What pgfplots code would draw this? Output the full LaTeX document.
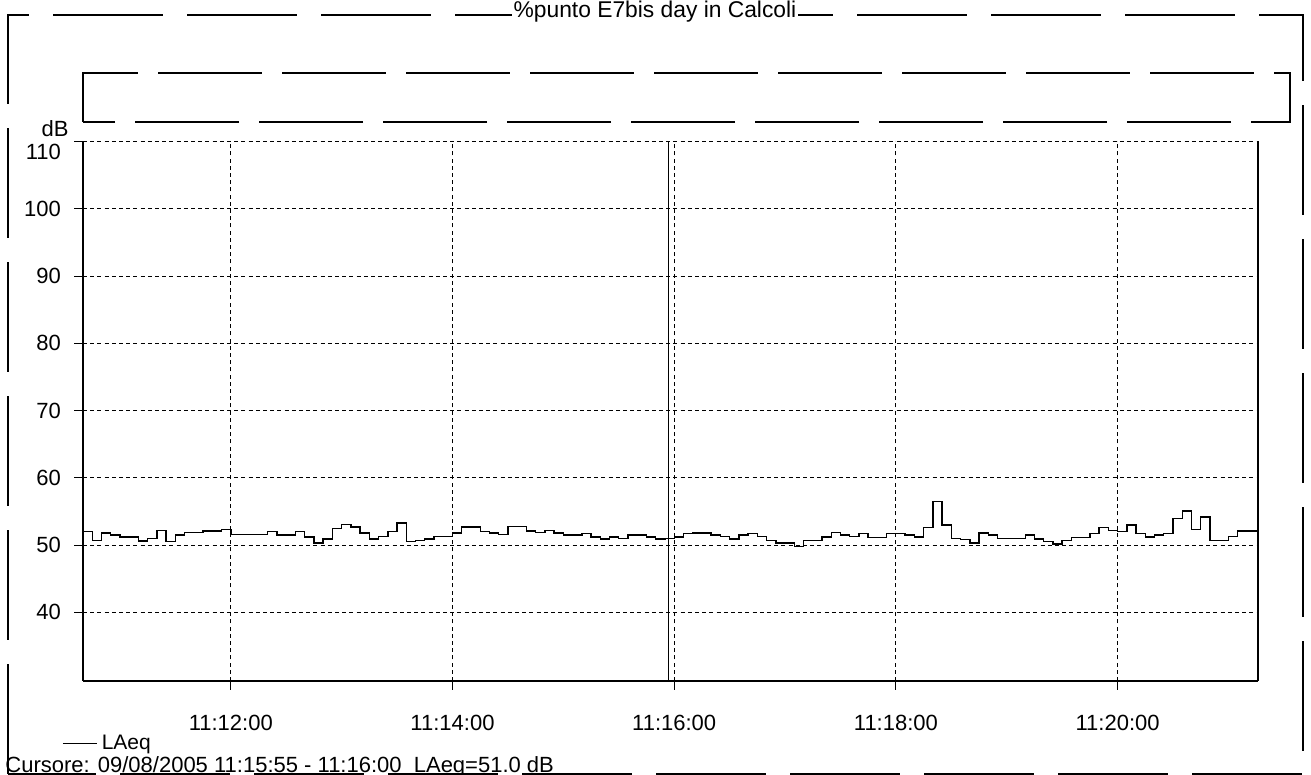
\documentclass[border=0pt]{standalone}
\usepackage{fontspec}
\setmainfont{Liberation Sans}
\usepackage{pgfplots}
\pgfplotsset{compat=1.18}

\begin{document}
\begin{tikzpicture}[font=\fontsize{11}{13}\selectfont]
\useasboundingbox (0pt,0pt) rectangle (655.5pt,387.5pt);

% scanned frame and empty header box
\draw[line width=1pt, dash pattern=on 55pt off 12pt] (4pt,0.6pt) rectangle (651.5pt,380pt);
\draw[line width=0.9pt, dash pattern=on 52pt off 10pt] (41.5pt,326.5pt) rectangle (645pt,351pt);
\node[fill=white, inner sep=1pt, font=\fontsize{11.4}{13}\selectfont] at (327.5pt,381.5pt) {\%punto E7bis day in Calcoli};
\node at (27.5pt,323pt) {dB};

\begin{axis}[
    at={(41.5pt,47pt)}, anchor=south west,
    scale only axis,
    width=587.5pt, height=270pt,
    xmin=40, xmax=676,
    ymin=29.8, ymax=110.1,
    axis x line*=bottom, axis y line*=left,
    xtick={120,240,360,480,600},
    xticklabels={11:12:00,11:14:00,11:16:00,11:18:00,11:20:00},
    ytick={40,50,60,70,80,90,100},
    extra y ticks={110},
    extra y tick style={yticklabel style={yshift=-5pt}},
    tick align=outside,
    major tick length=4.5pt,
    tick style={black, line width=0.5pt},
    grid=major,
    major grid style={black, line width=0.5pt, dash pattern=on 2pt off 1.6pt},
    axis line style={black, line width=0.8pt, -},
    xticklabel style={yshift=-9pt},
    yticklabel style={xshift=-3pt},
    /pgf/number format/assume math mode=true,
    legend style={at={(-0.018,-0.116)}, anchor=west, draw=none, fill=none,
        inner sep=0pt, font=\fontsize{10.5}{12}\selectfont},
    legend cell align=left,
    clip=false,
]

% LAeq, 5 s values
\addplot[black, line width=0.7pt, const plot mark left] coordinates {
(40,52.0) (45,50.7) (50,51.8) (55,51.5) (60,51.2) (70,50.6) (75,51.0)
(80,52.2) (85,50.5) (90,51.5) (95,51.9) (105,52.1) (115,52.3) (120,51.6)
(140,52.0) (145,51.5) (155,52.0) (160,51.2) (165,50.3) (170,50.9)
(175,52.5) (180,53.1) (185,52.7) (190,51.8) (195,50.9) (200,51.3)
(205,52.0) (210,53.3) (215,50.5) (220,50.7) (225,50.9) (230,51.3)
(240,51.8) (245,52.7) (255,52.0) (260,51.8) (265,51.6) (270,52.8)
(280,52.1) (285,51.9) (290,52.2) (295,51.8) (300,51.5) (310,51.7)
(315,51.2) (320,50.9) (325,51.2) (330,51.0) (335,51.5) (345,51.2)
(350,50.9) (355,51.0) (360,51.2) (365,51.7) (370,51.8) (380,51.5)
(385,51.3) (390,50.9) (395,51.5) (400,51.7) (405,51.3) (410,50.7)
(415,50.3) (425,49.8) (430,50.7) (440,51.2) (445,51.9) (450,51.5)
(455,51.3) (460,51.7) (465,51.1) (475,51.7) (485,51.5) (490,51.2)
(495,52.6) (500,56.5) (505,53.0) (510,51.0) (515,50.8) (520,50.3)
(525,51.8) (530,51.5) (535,51.0) (550,51.5) (555,50.9) (560,50.5)
(565,50.2) (570,50.7) (575,51.1) (585,51.7) (590,52.6) (595,52.2)
(600,52.0) (605,53.0) (610,51.7) (615,51.2) (620,51.5) (625,51.7)
(630,54.0) (635,55.1) (640,52.3) (645,54.2) (650,50.7) (660,51.3)
(665,52.1) (676,52.1)
};
\addlegendentry{LAeq}

% cursor
\addplot[black, line width=0.8pt, forget plot] coordinates {(357,29.8) (357,110.1)};

% right border of the plot area
\draw[black, line width=0.8pt] (rel axis cs:1,0) -- (rel axis cs:1,1);
\end{axis}

\node[anchor=west, inner sep=0pt] at (2.5pt,4.2pt) {Cursore: 09/08/2005 11:15:55 - 11:16:00\ \ LAeq=51.0 dB};
\end{tikzpicture}
\end{document}
